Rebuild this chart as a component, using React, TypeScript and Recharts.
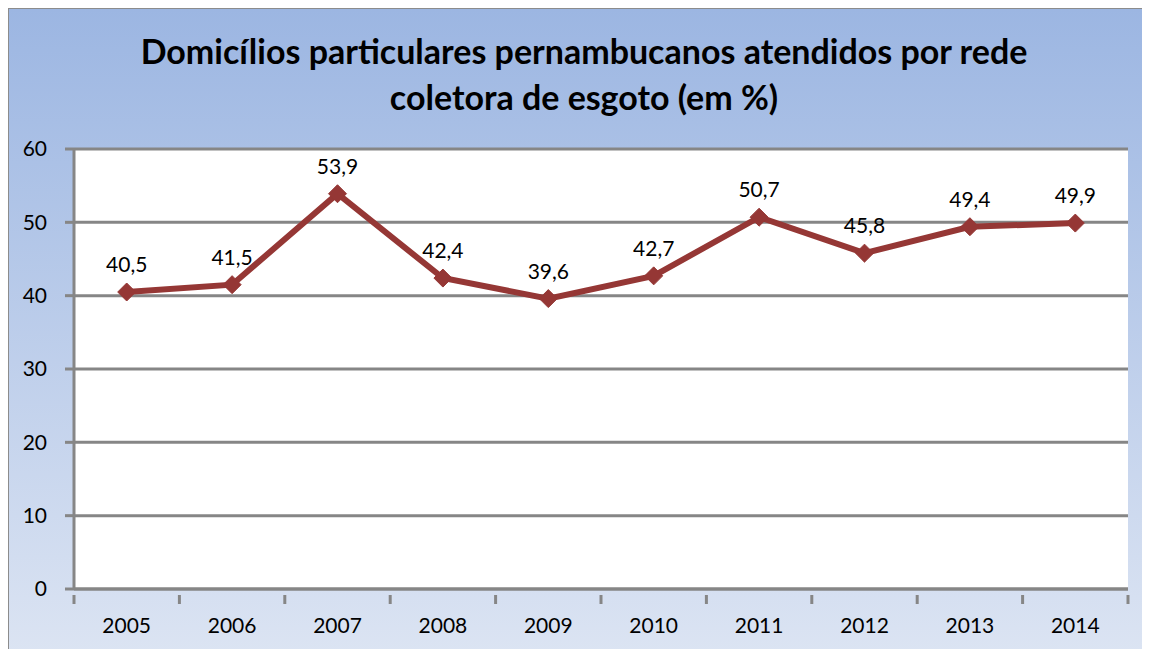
import React from "react";
import { LineChart, Line, XAxis, YAxis, CartesianGrid, LabelList } from "recharts";

const years = ["2005", "2006", "2007", "2008", "2009", "2010", "2011", "2012", "2013", "2014"];
const values = [40.5, 41.5, 53.9, 42.4, 39.6, 42.7, 50.7, 45.8, 49.4, 49.9];
const yTicks = [0, 10, 20, 30, 40, 50, 60];
const titleLines = [
  "Domicílios particulares pernambucanos atendidos por rede",
  "coletora de esgoto (em %)",
];

const FONT = "Lato, 'Open Sans', sans-serif";
const LINE_COLOR = "#953735";
const AXIS_GRAY = "#868686";

const data = years.map((year, i) => ({ pos: i + 0.5, year, value: values[i] }));

// ticks at category boundaries (integers) and labels at centers (halves)
const xTicks: number[] = [];
for (let i = 0; i <= years.length * 2; i++) xTicks.push(i / 2);

function XTick(props: any) {
  const { x, y, payload } = props;
  const v = payload.value as number;
  if (Number.isInteger(v)) {
    return <line x1={x} x2={x} y1={y - 2} y2={y + 7} stroke={AXIS_GRAY} strokeWidth={3} />;
  }
  const idx = Math.floor(v);
  return (
    <text x={x} y={y + 36} textAnchor="middle" fontSize={21} fontFamily={FONT} fill="#000">
      {years[idx]}
    </text>
  );
}

function Diamond(props: any) {
  const { cx, cy } = props;
  if (cx == null || cy == null) return null;
  const r = 9;
  return (
    <polygon
      points={`${cx},${cy - r} ${cx + r},${cy} ${cx},${cy + r} ${cx - r},${cy}`}
      fill={LINE_COLOR}
      stroke={LINE_COLOR}
    />
  );
}

export default function App() {
  return (
    <div
      style={{
        position: "relative",
        left: -1,
        top: -1,
        width: 1160,
        height: 660,
        border: "2px solid #8c8c8c",
        background: "linear-gradient(to bottom, #9cb6e2 0%, #dde5f3 100%)",
        fontFamily: FONT,
      }}
    >
      <div
        style={{
          position: "absolute",
          left: 0,
          top: 19,
          width: 1150,
          textAlign: "center",
          fontWeight: 700,
          fontSize: 34,
          lineHeight: "46px",
          color: "#000",
        }}
      >
        {titleLines.map((t) => (
          <div key={t}>{t}</div>
        ))}
      </div>
      <LineChart
        width={1140}
        height={639}
        data={data}
        margin={{ top: 140, right: 21, bottom: 0, left: 0 }}
      >
        <CartesianGrid
          vertical={false}
          stroke={AXIS_GRAY}
          strokeWidth={3}
          fill="#ffffff"
          fillOpacity={1}
        />
        <XAxis
          dataKey="pos"
          type="number"
          domain={[0, years.length]}
          ticks={xTicks}
          interval={0}
          tick={<XTick />}
          tickLine={false}
          axisLine={{ stroke: AXIS_GRAY, strokeWidth: 3 }}
          height={59}
        />
        <YAxis
          domain={[0, 60]}
          ticks={yTicks}
          interval={0}
          width={65}
          tickSize={9}
          tickMargin={18}
          tickLine={{ stroke: AXIS_GRAY, strokeWidth: 3 }}
          axisLine={{ stroke: AXIS_GRAY, strokeWidth: 3 }}
          tick={{ fontSize: 21, fontFamily: FONT, fill: "#000" }}
        />
        <Line
          type="linear"
          dataKey="value"
          stroke={LINE_COLOR}
          strokeWidth={6}
          dot={<Diamond />}
          activeDot={false}
          isAnimationActive={false}
        >
          <LabelList
            dataKey="value"
            position="top"
            offset={20}
            formatter={(v: any) => String(v).replace(".", ",")}
            style={{ fontSize: 21, fontFamily: FONT, fill: "#000" }}
          />
        </Line>
      </LineChart>
    </div>
  );
}
